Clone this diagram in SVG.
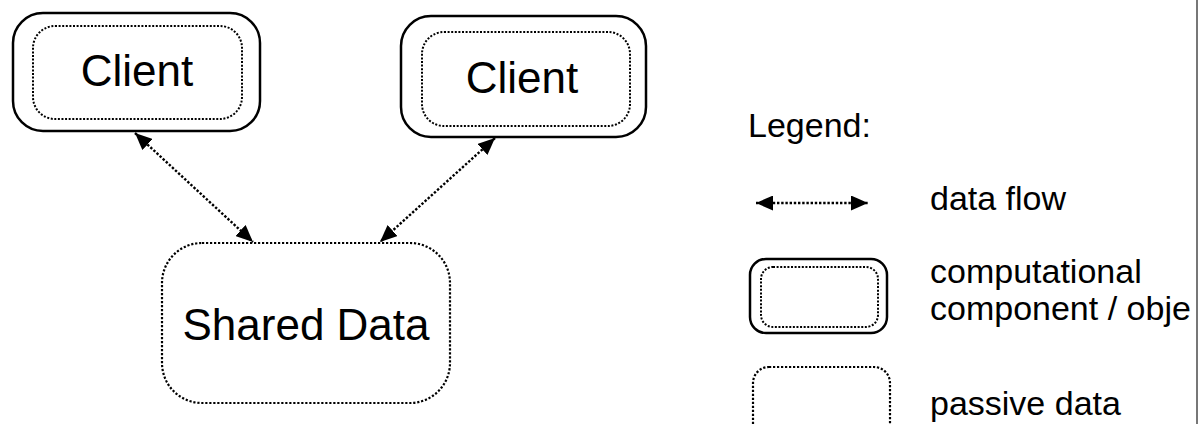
<svg xmlns="http://www.w3.org/2000/svg" width="1202" height="424" viewBox="0 0 1202 424">
  <style>
    .bg { fill: #ffffff; }
    .outer { fill: none; stroke: #000; stroke-width: 2.5; }
    .inner { fill: none; stroke: #000; stroke-width: 2; stroke-dasharray: 2 1.6; }
    .passive { fill: none; stroke: #000; stroke-width: 2.2; stroke-dasharray: 2.2 1.8; }
    .flow { fill: none; stroke: #000; stroke-width: 2.4; stroke-dasharray: 2.4 1.8; }
    .big { font-family: "Liberation Sans", Arial, sans-serif; font-size: 44px; fill: #000; }
    .lg { font-family: "Liberation Sans", Arial, sans-serif; font-size: 34px; fill: #000; }
    .edge { stroke: #777; stroke-width: 2; }
  </style>
  <defs>
    <marker id="head" viewBox="0 0 17 15" refX="17" refY="7.5" markerWidth="17" markerHeight="15" markerUnits="userSpaceOnUse" orient="auto-start-reverse">
      <path d="M0,0 L17,7.5 L0,15 Z" fill="#000"/>
    </marker>
  </defs>

  <rect class="bg" x="0" y="0" width="1202" height="424"/>

  <!-- nodes -->
  <g id="client-left">
    <rect class="outer" x="13" y="13" width="247" height="118" rx="30" ry="30"/>
    <rect class="inner" x="33" y="26" width="209" height="93" rx="22" ry="22"/>
    <text class="big" x="137" y="86" text-anchor="middle">Client</text>
  </g>

  <g id="client-right">
    <rect class="outer" x="401" y="16" width="245" height="121" rx="30" ry="30"/>
    <rect class="inner" x="422" y="32" width="208" height="94" rx="22" ry="22"/>
    <text class="big" x="522" y="93" text-anchor="middle">Client</text>
  </g>

  <g id="shared-data">
    <rect class="passive" x="162" y="243" width="288" height="160" rx="40" ry="40"/>
    <text class="big" x="306" y="340" text-anchor="middle">Shared Data</text>
  </g>

  <!-- connectors -->
  <g id="connectors">
    <line class="flow" x1="135" y1="133" x2="253" y2="242" marker-start="url(#head)" marker-end="url(#head)"/>
    <line class="flow" x1="495" y1="138" x2="380" y2="242" marker-start="url(#head)" marker-end="url(#head)"/>
  </g>

  <!-- legend -->
  <g id="legend">
    <text class="lg" x="748" y="137">Legend:</text>

    <line class="flow" x1="756" y1="203" x2="868" y2="203" marker-start="url(#head)" marker-end="url(#head)"/>
    <text class="lg" x="930" y="210">data flow</text>

    <rect class="outer" x="750" y="259" width="137" height="74" rx="16" ry="16"/>
    <rect class="inner" x="761" y="267" width="117" height="60" rx="12" ry="12"/>
    <text class="lg" x="930" y="283">computational</text>
    <text class="lg" x="930" y="320">component / obje</text>

    <rect class="passive" x="753" y="367" width="137" height="74" rx="16" ry="16"/>
    <text class="lg" x="930" y="415">passive data</text>
  </g>

  <!-- frame edge -->
  <line class="edge" x1="1197" y1="0" x2="1197" y2="424"/>
</svg>
